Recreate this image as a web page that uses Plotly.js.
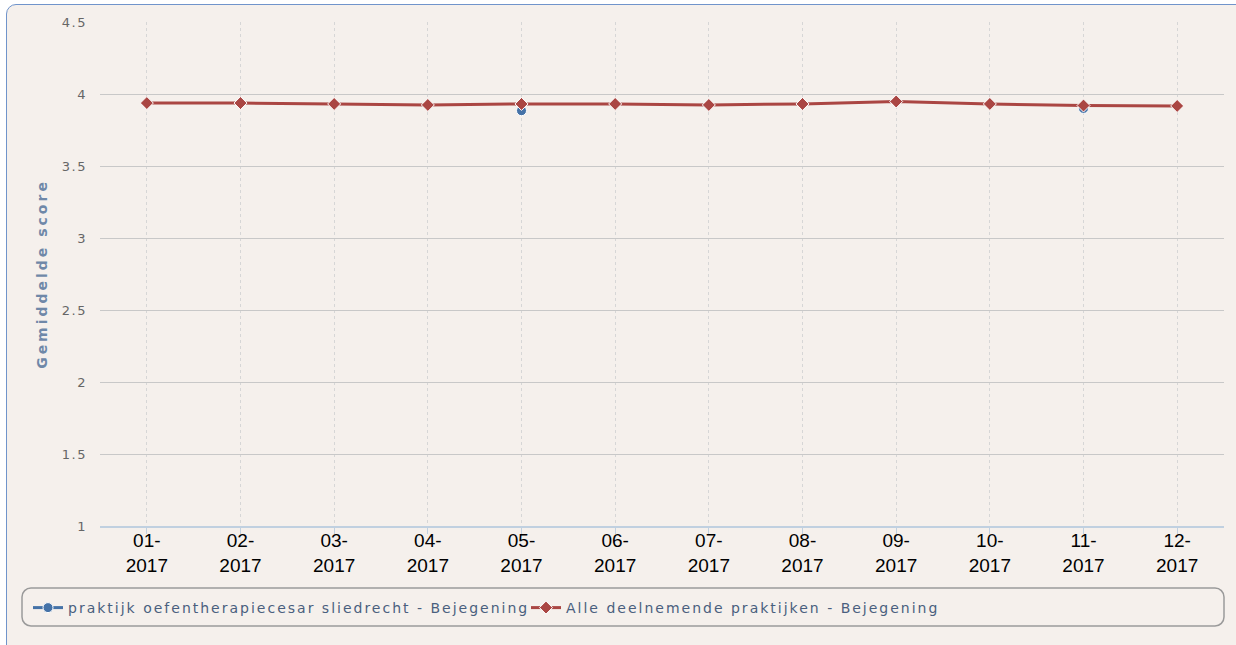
<!DOCTYPE html>
<html>
<head>
<meta charset="utf-8">
<script src="https://cdn.plot.ly/plotly-3.0.1.min.js"></script>
<style>
  html, body { margin: 0; padding: 0; background: #ffffff; overflow: hidden; width: 1236px; height: 645px; }
  #frame { position: absolute; left: 6px; top: 4px; width: 1260px; height: 700px; box-sizing: border-box;
           border: 1.5px solid #7094CB; border-radius: 10px; background: #F5F0EC; }
  #chart { position: absolute; left: 0; top: 0; width: 1236px; height: 645px; }
  .legendtext { letter-spacing: 2px; }
  .ytitle { letter-spacing: 3px; }
  .ytick text { letter-spacing: 1.5px; }
</style>
</head>
<body>
<div id="frame"></div>
<div id="chart"></div>
<script>
// ---- data ----
const months = ['01-2017','02-2017','03-2017','04-2017','05-2017','06-2017',
                '07-2017','08-2017','09-2017','10-2017','11-2017','12-2017'];
const tickLabels = months.map(m => m.replace('-', '-<br>'));
const practiceName = 'praktijk oefentherapiecesar sliedrecht - Bejegening';
const allName = 'Alle deelnemende praktijken - Bejegening';
const practiceValues = [null, null, null, null, 3.884, null, null, null, null, null, 3.90, null];
const allValues = [3.937, 3.937, 3.931, 3.924, 3.931, 3.931, 3.924, 3.931, 3.948, 3.931, 3.920, 3.917];
const yTitle = 'Gemiddelde score';

// ---- layout helpers ----
const W = 1236, H = 645;
const M = {l: 100, r: 12, t: 22, b: 119};
const pw = W - M.l - M.r, ph = H - M.t - M.b;
const px = x => (x - M.l) / pw;
const py = y => (H - M.b - y) / ph;
function roundRect(x0, y0, x1, y1, r) {
  const k = 0.55 * r;
  const P = (x, y) => px(x) + ',' + py(y);
  return 'M' + P(x0 + r, y0) + ' L' + P(x1 - r, y0) +
    ' C' + P(x1 - r + k, y0) + ' ' + P(x1, y0 + r - k) + ' ' + P(x1, y0 + r) +
    ' L' + P(x1, y1 - r) +
    ' C' + P(x1, y1 - r + k) + ' ' + P(x1 - r + k, y1) + ' ' + P(x1 - r, y1) +
    ' L' + P(x0 + r, y1) +
    ' C' + P(x0 + r - k, y1) + ' ' + P(x0, y1 - r + k) + ' ' + P(x0, y1 - r) +
    ' L' + P(x0, y0 + r) +
    ' C' + P(x0, y0 + r - k) + ' ' + P(x0 + r - k, y0) + ' ' + P(x0 + r, y0) + ' Z';
}

const traces = [
  {
    x: tickLabels, y: practiceValues, name: practiceName,
    type: 'scatter', mode: 'lines+markers', connectgaps: false,
    line: {color: '#4572A7', width: 3},
    marker: {symbol: 'circle', size: 10, color: '#4572A7', line: {color: '#ffffff', width: 1}}
  },
  {
    x: tickLabels, y: allValues, name: allName,
    type: 'scatter', mode: 'lines+markers',
    line: {color: '#AA4643', width: 3},
    marker: {symbol: 'diamond', size: 10, color: '#AA4643', line: {color: '#ffffff', width: 1}}
  }
];

const layout = {
  width: W, height: H,
  margin: M,
  paper_bgcolor: 'rgba(0,0,0,0)',
  plot_bgcolor: 'rgba(0,0,0,0)',
  showlegend: true,
  hovermode: false,
  xaxis: {
    type: 'category',
    categoryorder: 'array', categoryarray: tickLabels,
    range: [-0.5, 11.5],
    showgrid: true, gridcolor: '#D6D6D6', griddash: 'dot', gridwidth: 1,
    showline: true, linecolor: '#C0D0E0', linewidth: 2,
    ticks: 'outside', ticklen: 6, tickcolor: '#C0D0E0', tickwidth: 1,
    ticklabelstandoff: -10,
    tickfont: {family: '"Liberation Sans", Arial, sans-serif', size: 19, color: '#000000'},
    zeroline: false, fixedrange: true
  },
  yaxis: {
    range: [1, 4.5], dtick: 0.5, tick0: 1,
    showgrid: true, gridcolor: '#C8C8C8', gridwidth: 1,
    zeroline: false, showline: false, ticks: '',
    ticklabelstandoff: 12,
    tickfont: {family: '"DejaVu Sans", sans-serif', size: 13, color: '#666666'},
    title: {text: yTitle, standoff: 10,
            font: {family: '"DejaVu Sans", sans-serif', size: 14, color: '#6F88A8', weight: 'bold'}},
    fixedrange: true
  },
  legend: {
    orientation: 'h', x: px(28), xanchor: 'left', y: py(608), yanchor: 'middle',
    bgcolor: 'rgba(0,0,0,0)', borderwidth: 0, entrywidth: 453,
    font: {family: '"DejaVu Sans", sans-serif', size: 14, color: '#4A5F7E'},
    traceorder: 'normal'
  },
  shapes: [
    {type: 'path', xref: 'paper', yref: 'paper', path: roundRect(22, 588, 1224, 626, 9),
     line: {color: '#9A9A9A', width: 1.5}, fillcolor: 'rgba(0,0,0,0)', layer: 'below'}
  ]
};

Plotly.newPlot('chart', traces, layout, {staticPlot: true, displayModeBar: false});
</script>
</body>
</html>
